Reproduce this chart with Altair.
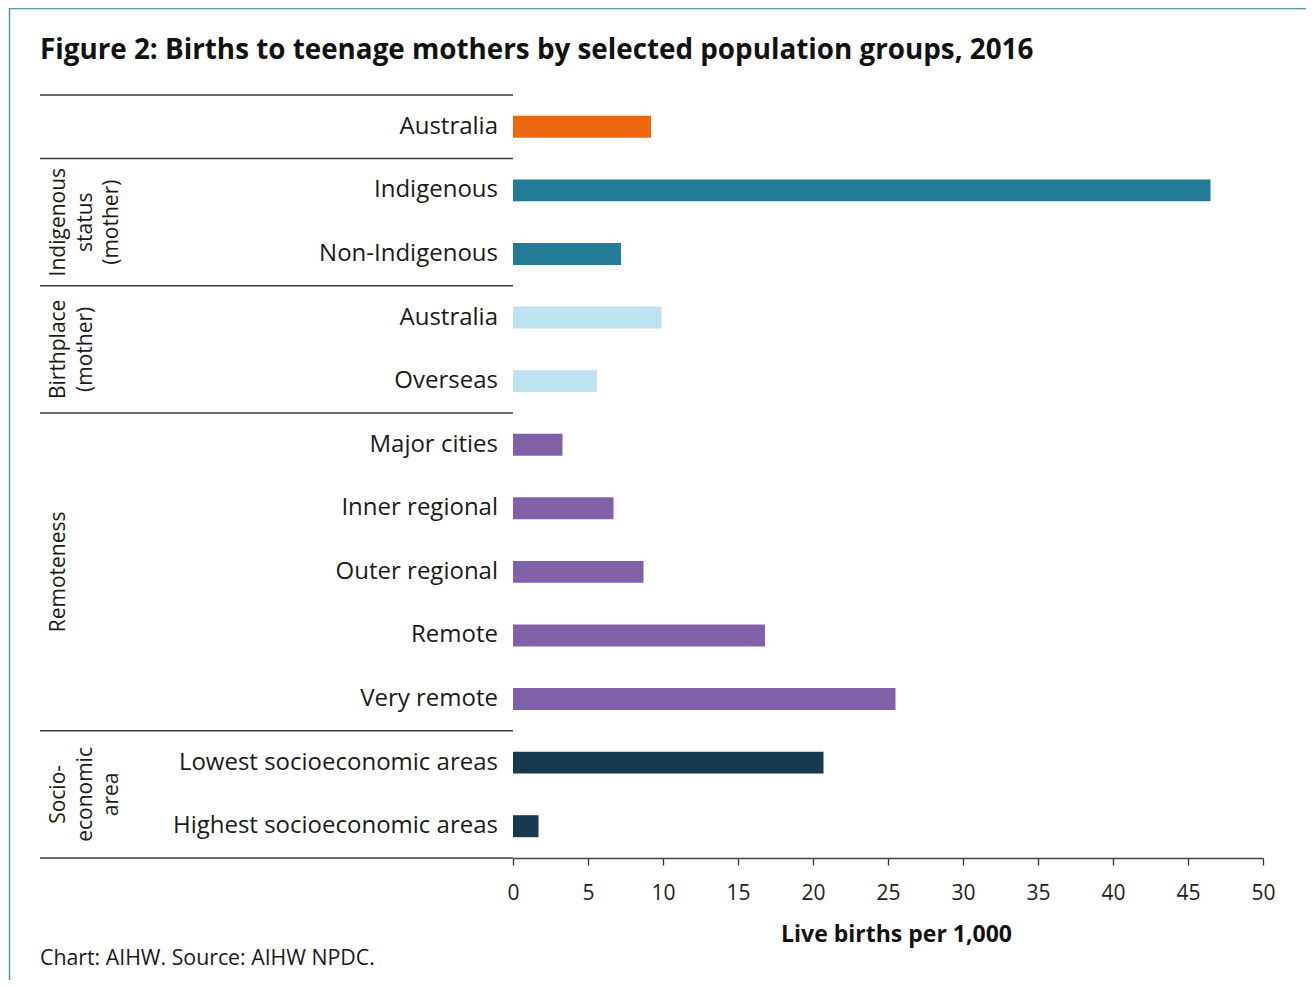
import altair as alt
import pandas as pd

# ---- data ----
categories = ["Australia", "Indigenous", "Non-Indigenous", "Australia", "Overseas",
              "Major cities", "Inner regional", "Outer regional", "Remote", "Very remote",
              "Lowest socioeconomic areas", "Highest socioeconomic areas"]
values = [9.2, 46.5, 7.2, 9.9, 5.6, 3.3, 6.7, 8.7, 16.8, 25.5, 20.7, 1.7]
groups = ["Total", "Indigenous", "Indigenous", "Birthplace", "Birthplace",
          "Remoteness", "Remoteness", "Remoteness", "Remoteness", "Remoteness",
          "SES", "SES"]
group_names = ["Total", "Indigenous", "Birthplace", "Remoteness", "SES"]
group_labels = ["", "Indigenous\nstatus\n(mother)", "Birthplace\n(mother)", "Remoteness",
                "Socio-\neconomic\narea"]
group_colors = ["#EC670F", "#247B98", "#BDE2F0", "#8061A8", "#18384D"]
x_ticks = [0, 5, 10, 15, 20, 25, 30, 35, 40, 45, 50]

title_text = "Figure 2: Births to teenage mothers by selected population groups, 2016"
footer_text = "Chart: AIHW. Source: AIHW NPDC."
x_title = "Live births per 1,000"

# ---- tables built from the lists ----
bars = pd.DataFrame({"idx": list(range(len(categories))), "cat": categories,
                     "value": values, "grp": groups})

# boundaries between groups (band edges)
bounds = [-0.5]
for i in range(1, len(groups)):
    if groups[i] != groups[i - 1]:
        bounds.append(i - 0.5)
bounds.append(len(groups) - 0.5)
bound_df = pd.DataFrame({"b": bounds})

glab = (bars.groupby("grp", sort=False)["idx"].mean().reset_index())
glab["label"] = glab["grp"].map(dict(zip(group_names, group_labels)))
glab = glab[glab["label"] != ""]

FONT = "Open Sans"
NARROW = "Liberation Sans Narrow, DejaVu Sans Condensed, Open Sans"
W, H = 750, 763
PAD_L, PAD_T = 505, 87

yscale = alt.Scale(domain=[-0.5, len(categories) - 0.5], reverse=True, nice=False, zero=False)
xscale = alt.Scale(domain=[0, 50], nice=False)

bar_layer = alt.Chart(bars).transform_calculate(
    y0="datum.idx - 0.173", y1="datum.idx + 0.173"
).mark_rect().encode(
    x=alt.X("value:Q", scale=xscale,
            axis=alt.Axis(values=x_ticks, grid=False, tickSize=7, tickWidth=1.3,
                          tickColor="#333", domainColor="#444", domainWidth=1.5,
                          labelFont=FONT, labelFontSize=21, labelColor="#222",
                          labelPadding=17, labelFlush=False, title=x_title,
                          titleFont=FONT, titleFontSize=23, titleFontWeight="bold",
                          titleColor="#111", titleX=383, titleY=83,
                          titleBaseline="alphabetic", titleAlign="center")),
    x2=alt.datum(0),
    y=alt.Y("y0:Q", scale=yscale,
            axis=alt.Axis(labels=False, ticks=False, grid=False, title=None,
                          domainColor="#222", domainWidth=1.6)),
    y2="y1:Q",
    color=alt.Color("grp:N", scale=alt.Scale(domain=group_names, range=group_colors),
                    legend=None),
)

cat_layer = alt.Chart(bars).mark_text(
    align="right", baseline="middle", font=FONT, fontSize=24, color="#1a1a1a", dx=-15
).encode(
    x=alt.value(0),
    y=alt.Y("idx:Q", scale=yscale, axis=None),
    text="cat:N",
)

rule_layer = alt.Chart(bound_df).mark_rule(color="#3a3a3a", strokeWidth=1.5).encode(
    x=alt.value(-473), x2=alt.value(0),
    y=alt.Y("b:Q", scale=yscale, axis=None),
)

grp_layer = alt.Chart(glab).mark_text(
    angle=270, align="center", baseline="alphabetic", font=FONT, fontSize=21,
    color="#1a1a1a", lineBreak="\n", lineHeight=26.5
).encode(
    x=alt.value(-448),
    y=alt.Y("idx:Q", scale=yscale, axis=None),
    text="label:N",
)

title_layer = alt.Chart(pd.DataFrame({"t": [title_text]})).mark_text(
    align="left", baseline="alphabetic", font=FONT, fontSize=27.8, fontWeight="bold",
    color="#111"
).encode(x=alt.value(-473), y=alt.value(-36), text="t:N")

footer_layer = alt.Chart(pd.DataFrame({"t": [footer_text]})).mark_text(
    align="left", baseline="alphabetic", font=FONT, fontSize=21.3, color="#1a1a1a"
).encode(x=alt.value(-473), y=alt.value(870), text="t:N")

frame_left = alt.Chart(pd.DataFrame({"k": [0]})).mark_rule(
    color="#5196B3", strokeWidth=1.5
).encode(x=alt.value(-503.5), y=alt.value(-87), y2=alt.value(H + 130))

frame_top = alt.Chart(pd.DataFrame({"k": [0]})).mark_rule(
    color="#5196B3", strokeWidth=1.5
).encode(x=alt.value(-504), x2=alt.value(W + 100), y=alt.value(-86.5))

chart = alt.layer(
    frame_left, frame_top, rule_layer, bar_layer, cat_layer, grp_layer,
    title_layer, footer_layer
).properties(
    width=W, height=H,
    autosize=alt.AutoSizeParams(type="none"),
    padding={"left": PAD_L, "top": PAD_T, "right": 43, "bottom": 122},
    background="white",
).configure_view(stroke=None)

chart.save("out.html", embed_options={"renderer": "svg", "actions": False})
